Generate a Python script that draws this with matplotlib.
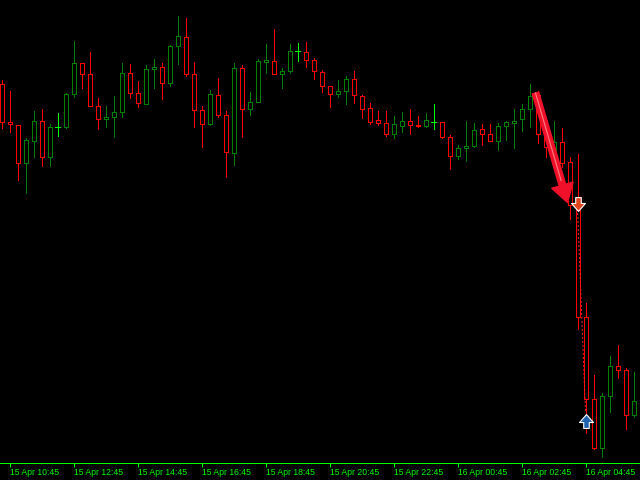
import matplotlib
matplotlib.use("Agg")
import matplotlib.pyplot as plt
import numpy as np
from matplotlib.patches import FancyArrowPatch, ArrowStyle
from matplotlib.path import Path

# ---- data (15-minute candles, price in chart points) ----
opens = [395.7, 357.7, 354.7, 316.7, 338.7, 358.7, 322.7, 352.7, 352.7, 385.7,
         416.7, 405.7, 373.7, 360.7, 362.7, 367.7, 406.7, 386.7, 375.7, 410.7,
         412.7, 396.7, 433.7, 442.7, 405.7, 369.7, 355.7, 384.7, 364.7, 326.7,
         411.7, 370.7, 377.7, 417.7, 418.7, 405.7, 408.7, 428.7, 427.7, 419.7,
         407.7, 393.7, 385.7, 388.7, 400.7, 383.7, 371.7, 359.7, 356.7, 345.7,
         353.7, 358.7, 354.7, 353.7, 357.7, 357.7, 342.7, 323.7, 331.7, 333.7,
         350.7, 345.7, 338.7, 353.7, 357.3, 360.7, 370.7, 385.0, 345.7, 322.0,
         337.7, 317.7, 270.7, 162.7, 80.7, 32.3, 83.7, 113.7, 109.7, 64.7, 79.0]
highs = [400.0, 389.0, 354.7, 342.0, 369.0, 371.0, 355.7, 367.0, 386.7, 439.0,
         416.7, 428.0, 381.7, 373.7, 383.7, 416.7, 415.7, 399.0, 414.7, 420.7,
         416.7, 434.7, 464.0, 461.7, 417.7, 373.7, 389.7, 401.7, 368.7, 416.7,
         414.7, 387.7, 420.7, 436.0, 451.0, 411.7, 436.0, 437.0, 438.0, 421.7,
         409.7, 393.7, 399.7, 403.7, 408.7, 384.7, 376.7, 368.7, 368.7, 363.7,
         367.7, 370.7, 363.7, 366.7, 375.7, 357.7, 344.7, 334.7, 358.7, 356.7,
         355.7, 355.7, 356.7, 358.7, 371.0, 376.0, 396.0, 389.3, 352.0, 359.0,
         351.7, 322.7, 326.0, 176.7, 105.0, 86.7, 123.7, 134.7, 111.7, 107.7, 90.0]
lows = [351.7, 348.3, 300.3, 287.3, 323.3, 314.3, 314.3, 344.3, 351.7, 382.7,
        392.3, 373.7, 351.3, 353.3, 343.3, 362.7, 381.7, 372.7, 375.7, 392.3,
        380.7, 393.7, 415.7, 403.7, 352.7, 332.7, 354.7, 362.7, 302.7, 314.7,
        342.7, 364.7, 377.7, 407.0, 405.7, 392.3, 406.7, 418.7, 412.7, 401.3,
        387.7, 372.7, 382.7, 375.7, 376.7, 361.7, 355.7, 354.7, 343.7, 342.3,
        347.7, 345.7, 352.7, 352.7, 350.7, 341.7, 310.7, 320.7, 318.7, 332.7,
        334.7, 338.7, 329.7, 339.7, 332.0, 349.0, 353.3, 337.3, 323.3, 318.0,
        313.0, 261.0, 150.7, 47.0, 31.3, 23.3, 67.7, 101.7, 50.7, 62.7, 75.0]
closes = [357.7, 355.7, 316.7, 339.7, 358.7, 322.7, 352.7, 352.7, 385.7, 416.7,
          405.7, 373.7, 360.7, 362.7, 367.7, 406.7, 386.7, 376.7, 410.7, 412.7,
          396.7, 433.7, 443.7, 405.7, 369.7, 355.7, 385.7, 364.7, 327.7, 411.7,
          370.7, 377.7, 418.7, 419.7, 405.7, 408.7, 428.7, 428.7, 419.7, 408.7,
          393.7, 385.7, 388.7, 400.7, 384.7, 370.7, 357.7, 356.7, 345.7, 355.7,
          358.7, 354.7, 353.7, 359.7, 357.7, 342.7, 323.7, 331.7, 333.7, 349.7,
          345.7, 338.7, 353.7, 357.7, 358.7, 370.7, 384.0, 345.7, 333.3, 338.0,
          316.7, 275.0, 162.7, 80.7, 32.3, 83.7, 113.7, 109.7, 64.7, 78.7, 87.0]

tick_idx = [1, 9, 17, 25, 33, 41, 49, 57, 65, 73]
tick_labels = ["15 Apr 10:45", "15 Apr 12:45", "15 Apr 14:45", "15 Apr 16:45",
               "15 Apr 18:45", "15 Apr 20:45", "15 Apr 22:45", "16 Apr 00:45",
               "16 Apr 02:45", "16 Apr 04:45"]

# signals: sell arrow, buy arrow, trade line, drawn trend arrow
sell_idx, sell_price = 72, 276.0
buy_idx, buy_price = 73, 59.0
trade_from = (72, 271.0)
trade_to = (73, 69.0)
trend_from = (66.75, 387.0)
trend_to = (70.75, 277.5)

BULL = "#008000"
BEAR = "#ff0000"
DOJI = "#00ff00"
LIME = "#00ff00"

fig = plt.figure(figsize=(6.4, 4.8), dpi=100, facecolor="black")
ax = fig.add_axes([0, 16.7 / 480, 1, 463.3 / 480])
ax.set_facecolor("black")
ax.set_xlim(-1.5 / 8, (640 - 1.5) / 8)
ax.set_ylim(16.7, 480)

lw = 0.72
x = np.arange(len(opens))
o = np.array(opens); h = np.array(highs); l = np.array(lows); c = np.array(closes)
top = np.maximum(o, c); bot = np.minimum(o, c)
colors = [BULL if cc > oo else (BEAR if cc < oo else DOJI) for oo, cc in zip(o, c)]

for i in range(len(x)):
    col = colors[i]
    if col == DOJI:
        ax.vlines(x[i], l[i], h[i], color=col, lw=lw, antialiased=False)
        ax.hlines(o[i], x[i] - 0.3, x[i] + 0.3, color=col, lw=lw, antialiased=False)
    else:
        ax.vlines(x[i], top[i], h[i], color=col, lw=lw, antialiased=False)
        ax.vlines(x[i], l[i], bot[i], color=col, lw=lw, antialiased=False)
        ax.bar(x[i], max(top[i] - bot[i], 0.8), bottom=bot[i], width=0.5,
               fill=False, edgecolor=col, linewidth=lw, antialiased=False)

# trade line
ax.plot([trade_from[0], trade_to[0]], [trade_from[1], trade_to[1]],
        color="#ff2020", lw=lw, linestyle=(0, (2, 2)))

# trend arrow
arr = FancyArrowPatch(trend_from, trend_to,
                      arrowstyle=ArrowStyle.Simple(head_length=13, head_width=16, tail_width=4.8),
                      mutation_scale=1, color="#f0102a", shrinkA=0, shrinkB=0, zorder=5)
ax.add_patch(arr)
mid = (trend_from[0] + (trend_to[0] - trend_from[0]) * 0.8,
       trend_from[1] + (trend_to[1] - trend_from[1]) * 0.8)
ax.plot([trend_from[0], mid[0]], [trend_from[1], mid[1]], color="#ff8080", lw=0.8, zorder=6)

# signal arrow markers
down_verts = [(-0.4, 1), (0.4, 1), (0.4, 0.15), (1.0, 0.15), (0, -1),
              (-1.0, 0.15), (-0.4, 0.15), (-0.4, 1)]
down_path = Path(down_verts, [Path.MOVETO] + [Path.LINETO] * 6 + [Path.CLOSEPOLY])
up_path = Path([(vx, -vy) for vx, vy in down_verts], down_path.codes)
ax.plot([sell_idx], [sell_price], marker=down_path, markersize=10, color="#e2461e",
        markeredgecolor="white", markeredgewidth=0.8, zorder=7)
ax.plot([buy_idx], [buy_price], marker=up_path, markersize=10, color="#1f62b0",
        markeredgecolor="white", markeredgewidth=0.8, zorder=7)

# axes styling
for s in ["top", "right", "left"]:
    ax.spines[s].set_visible(False)
ax.spines["bottom"].set_color(LIME)
ax.spines["bottom"].set_linewidth(lw)
ax.set_yticks([])
ax.set_xticks(tick_idx)
ax.set_xticklabels(tick_labels, ha="left", fontfamily="Liberation Sans", fontsize=6.2)
ax.tick_params(axis="x", colors=LIME, length=2.6, width=lw, pad=1, direction="out")
for t in ax.get_xticklabels():
    t.set_color(LIME)

fig.savefig("out.png", dpi=100, facecolor="black")
